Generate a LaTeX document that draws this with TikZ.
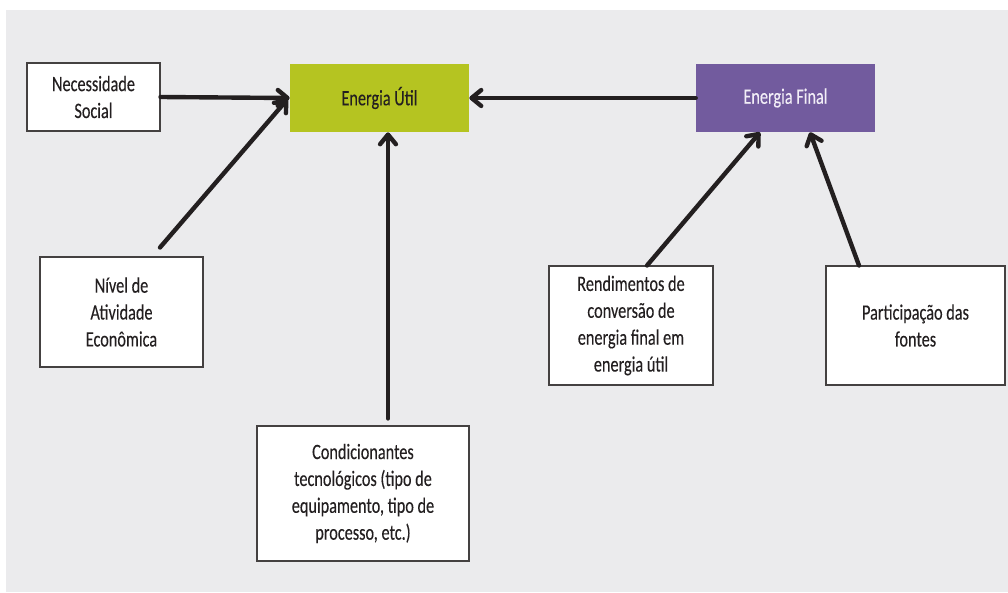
\documentclass[tikz,border=0pt]{standalone}
\usepackage{fontspec}
\setmainfont[FakeStretch=0.74, FakeBold=0.2]{Carlito}
\usepackage{tikz}
\usetikzlibrary{positioning,arrows.meta}
\tikzstyle{diagramPx} = [x = 0.02cm, y = -0.02cm]
\definecolor{backColor}{RGB}{235,235,237}
\definecolor{utilColor}{RGB}{181,196,33}
\definecolor{finalColor}{RGB}{114,91,158}
\definecolor{inkColor}{RGB}{35,31,32}
\definecolor{finalText}{RGB}{242,238,247}
\tikzstyle{boxText} = [font=\fontsize{12.5pt}{15.3pt}\selectfont, text=inkColor, align=center, inner sep=0pt]
\tikzstyle{factorBox} = [boxText, draw=inkColor!85, line width=.6pt, fill=white]
\tikzstyle{energyBox} = [boxText, minimum width=3.58cm, minimum height=1.36cm]
\tikzstyle{flowArrow} = [draw=inkColor, line width=2.5pt, line cap=round, -{Straight Barb[round, length=5.5pt, width=9pt]}]
\newcommand{\factorNode}[5]{\node [factorBox, minimum width=#3, minimum height=#4] (#1) at #2 {#5};}

\begin{document}
\begin{tikzpicture}[diagramPx]
        \useasboundingbox (0,0) rectangle (1008,592);
        \fill [backColor] (6,10) rectangle (1008,592);

        % energy boxes
        \node [energyBox, fill=utilColor] (util) at (379.5,98) {Energia Útil};
        \node [energyBox, fill=finalColor, text=finalText] (final) at (785.5,98) {Energia Final};

        % factors
        \factorNode{necessidade}{(93.5,97)}{2.66cm}{1.36cm}{Necessidade\\Social}
        \factorNode{nivel}{(121.5,312)}{3.26cm}{2.20cm}{Nível de\\Atividade\\Econômica}
        \factorNode{cond}{(363,493.5)}{4.24cm}{2.70cm}{Condicionantes\\tecnológicos (tipo de\\equipamento, tipo de\\processo, etc.)}
        \factorNode{rendimentos}{(631,325.5)}{3.28cm}{2.38cm}{Rendimentos de\\conversão de\\energia final em\\energia útil}
        \factorNode{participacao}{(915.5,325.5)}{3.58cm}{2.38cm}{Participação das\\fontes}

        \coordinate (nivelOut) at ([shift={(38.5,-9)}]nivel.north);
        \coordinate (condOut) at ([shift={(25,-7)}]cond.north);

        % arrows
        \draw [flowArrow] (necessidade.east) -- (util.west);
        \draw [flowArrow] (nivelOut) -- ([shift={(-2,1)}]util.west);
        \draw [flowArrow] (condOut) -- (condOut |- util.south);
        \draw [flowArrow] (final.west) -- (util.east);
        \draw [flowArrow] ([shift={(16,0)}]rendimentos.north) -- ([shift={(-25.5,0)}]final.south);
        \draw [flowArrow] ([shift={(-56.5,0)}]participacao.north) -- ([shift={(24.5,0)}]final.south);
      \end{tikzpicture}
\end{document}
